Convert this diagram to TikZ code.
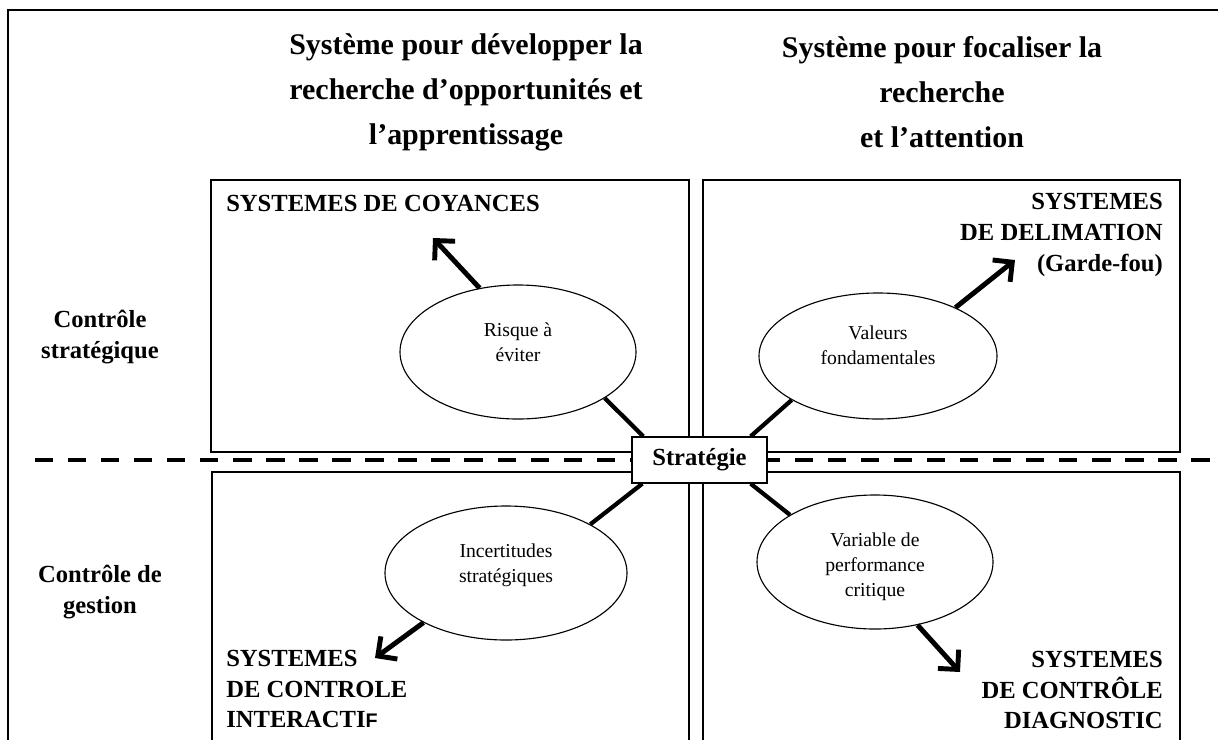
\documentclass[tikz,border=0pt]{standalone}
\usepackage{fontspec}
\setmainfont{Liberation Serif}
\newfontfamily\sansfont{Liberation Sans}
\usetikzlibrary{shapes.geometric,arrows.meta}

\begin{document}
\begin{tikzpicture}[x=0.25mm,y=-0.25mm,
  bulle/.style={ellipse, draw, line width=0.8pt, inner sep=0pt, minimum width=59mm, minimum height=33.5mm},
  texte/.style={align=center, inner sep=0pt, font=\fontsize{14}{17.8}\selectfont},
  titre/.style={align=center, inner sep=0pt, font=\bfseries\fontsize{21.3}{32}\selectfont},
  libelle/.style={inner sep=0pt, font=\bfseries\fontsize{17.5}{22}\selectfont},
  cadre/.style={line width=0.9pt},
  lien/.style={line width=3pt},
  fleche/.style={line width=3.5pt, -{Straight Barb[length=3.5mm,width=7mm]}}]

 \useasboundingbox (0,0) rectangle (1218,740);

 % outer frame
 \draw[line width=2pt] (8,740) -- (8,10) -- (1218,10);

 % quadrants
 \draw[cadre] (211,180) rectangle (689,452);
 \draw[cadre] (703,180) rectangle (1180,452);
 \draw[cadre] (212,740) -- (212,472) -- (689,472) -- (689,740);
 \draw[cadre] (703,740) -- (703,472) -- (1180,472) -- (1180,740);

 % separator
 \draw[line width=3.5pt, dash pattern=on 13pt off 10.5pt] (35,460) -- (1218,460);

 % titles
 \node[titre] (tg) at (466,92) {Système pour développer la\\recherche d’opportunités et\\l’apprentissage};
 \node[titre] (td) at (942,92) {Système pour focaliser la\\recherche\\et l’attention};

 % row labels
 \node[libelle, align=center] (cs) at (100,337) {Contrôle\\stratégique};
 \node[libelle, align=center] (cg) at (100,592) {Contrôle de\\gestion};

 % quadrant labels
 \node[libelle, anchor=west] (croy) at (226,203) {SYSTEMES DE COYANCES};
 \node[libelle, align=right, anchor=east] (delim) at (1163,235) {SYSTEMES\\DE DELIMATION\\(Garde-fou)};
 \node[libelle, align=left, anchor=west] (inter) at (226,689) {SYSTEMES\\DE CONTROLE\\INTERACTI{\sansfont\fontsize{14}{22}\selectfont F}};
 \node[libelle, align=right, anchor=east] (diag) at (1163,690) {SYSTEMES\\DE CONTRÔLE\\DIAGNOSTIC};

 % strategy
 \node[draw, cadre, fill=white, libelle, minimum width=33.75mm, minimum height=11.5mm] (strat) at (699.5,460) {Stratégie};

 % ellipses
 \node[bulle] (risque) at (518,352) {};
 \node[bulle, minimum width=59.5mm, minimum height=31.5mm] (valeurs) at (878,356) {};
 \node[bulle, minimum width=60.5mm] (incert) at (506,573) {};
 \node[bulle] (variable) at (875,562) {};

 \node[texte] (trisque) at ([yshift=2.5mm]risque) {Risque à\\éviter};
 \node[texte] (tvaleurs) at ([yshift=2.7mm]valeurs) {Valeurs\\fondamentales};
 \node[texte] (tincert) at ([yshift=2mm]incert) {Incertitudes\\stratégiques};
 \node[texte] (tvariable) at ([yshift=-1.2mm]variable) {Variable de\\performance\\critique};

 % links
 \draw[lien] ([xshift=3mm]strat.north west) -- (risque.-28);
 \draw[lien] ([xshift=-4.25mm]strat.north east) -- (valeurs.207);
 \draw[lien] ([xshift=2.75mm]strat.south west) -- (incert.30);
 \draw[lien] ([xshift=-4.25mm]strat.south east) -- (variable.151);

 % arrows
 \coordinate (pcroy) at (433,238);
 \coordinate (pdelim) at (1015,260);
 \coordinate (pinter) at (375,658);
 \coordinate (pdiag) at (960,672);
 \draw[fleche] (risque.121) -- (pcroy);
 \draw[fleche] (valeurs.32) -- (pdelim);
 \draw[fleche] (incert.211) -- (pinter);
 \draw[fleche] (variable.-56) -- (pdiag);
\end{tikzpicture}
\end{document}
